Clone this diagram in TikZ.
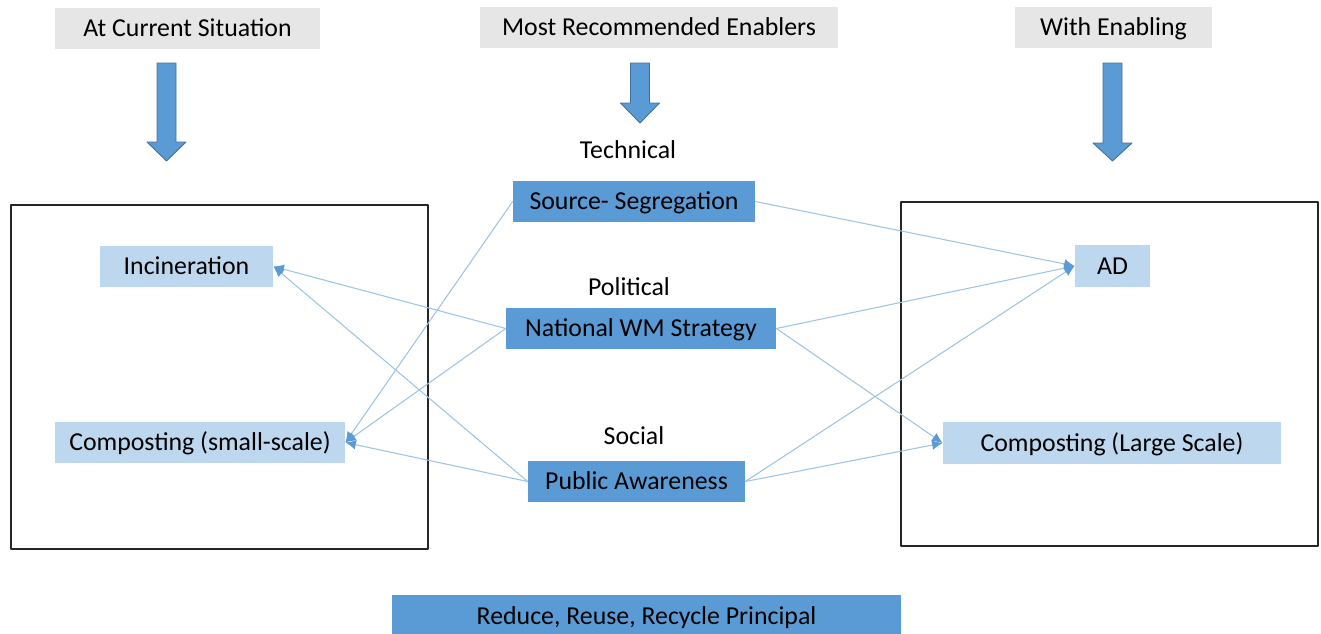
\documentclass[tikz,border=0pt]{standalone}
\usepackage{fontspec}
\setmainfont{Carlito}
\usepackage{xcolor}
\usetikzlibrary{arrows.meta,calc}
\definecolor{hdrgray}{HTML}{E7E6E6}
\definecolor{darkblue}{HTML}{5B9BD5}
\definecolor{lightblue}{HTML}{BDD7EE}
\definecolor{linkblue}{HTML}{9DC3E6}
\definecolor{rimblue}{HTML}{41719C}
\tikzset{
  boxtext/.style={inner sep=0pt,text height=9.6pt,text depth=0.4pt},
  hdr/.style={boxtext,fill=hdrgray,minimum height=41*0.02cm},
  enabler/.style={boxtext,fill=darkblue,minimum height=41*0.02cm},
  option/.style={boxtext,fill=lightblue,minimum height=41*0.02cm},
  link/.style={linkblue,line width=0.6pt},
  linkto/.style={link,-{Latex[length=6pt,width=5.5pt,color=darkblue]}}
}
\begin{document}
\begin{tikzpicture}[x=0.02cm, y=-0.02cm, line join=round,
  font=\fontsize{14.7}{17}\selectfont]
  \useasboundingbox (0,0) rectangle (1321,633);
  \node[hdr,minimum width=265*0.02cm] (hcur) at (187.5,28) {At Current Situation};
  \node[hdr,minimum width=358*0.02cm] (hrec) at (659,27.5) {Most Recommended Enablers};
  \node[hdr,minimum width=197*0.02cm] (hwith) at (1113.5,27.5) {With Enabling};
  \foreach \cx/\yb/\yt in {166.5/142/161, 640/103/123, 1112.5/143/161}
    \draw[fill=darkblue,draw=rimblue,line width=0.5pt] ({\cx-9.5},63) -- ({\cx+9.5},63)
      -- ({\cx+9.5},\yb) -- ({\cx+19.5},\yb) -- (\cx,\yt) -- ({\cx-19.5},\yb)
      -- ({\cx-9.5},\yb) -- cycle;
  \draw[line width=0.8pt,black!85] (11,205) rectangle (428,549);
  \draw[line width=0.8pt,black!85] (901,202) rectangle (1318,546);
  \node[boxtext] (ltech) at (628,150) {Technical};
  \node[boxtext] (lpol) at (629,287) {Political};
  \node[boxtext] (lsoc) at (634,436) {Social};
  \node[enabler,minimum width=242*0.02cm] (seg) at (634,201.5) {Source- Segregation};
  \node[enabler,minimum width=270*0.02cm] (nat) at (641,328.5) {National WM Strategy};
  \node[enabler,minimum width=217*0.02cm] (pub) at (636.5,481.5) {Public Awareness};
  \node[option,minimum width=173*0.02cm] (inc) at (186.5,266.5) {Incineration};
  \node[option,minimum width=290*0.02cm] (csmall) at (200,442.5) {Composting (small-scale)};
  \node[option,minimum width=75*0.02cm,minimum height=42*0.02cm] (ad) at (1112.5,266) {AD};
  \node[option,minimum width=338*0.02cm,minimum height=42*0.02cm] (clarge) at (1112,443) {Composting (Large Scale)};
  \node[enabler,minimum width=509*0.02cm,minimum height=42*0.02cm] (rrr) at (646.5,616) {Reduce, Reuse, Recycle Principal};
  \draw[linkto] (seg.west) -- (csmall.east);
  \draw[linkto] (seg.east) -- (ad.west);
  \draw[linkto] (nat.west) -- (inc.east);
  \draw[linkto] (nat.west) -- (csmall.east);
  \draw[linkto] (nat.east) -- (ad.west);
  \draw[linkto] (nat.east) -- (clarge.west);
  \draw[linkto] (pub.west) -- (inc.east);
  \draw[linkto] (pub.west) -- (csmall.east);
  \draw[linkto] (pub.east) -- (ad.west);
  \draw[linkto] (pub.east) -- (clarge.west);
\end{tikzpicture}
\end{document}
